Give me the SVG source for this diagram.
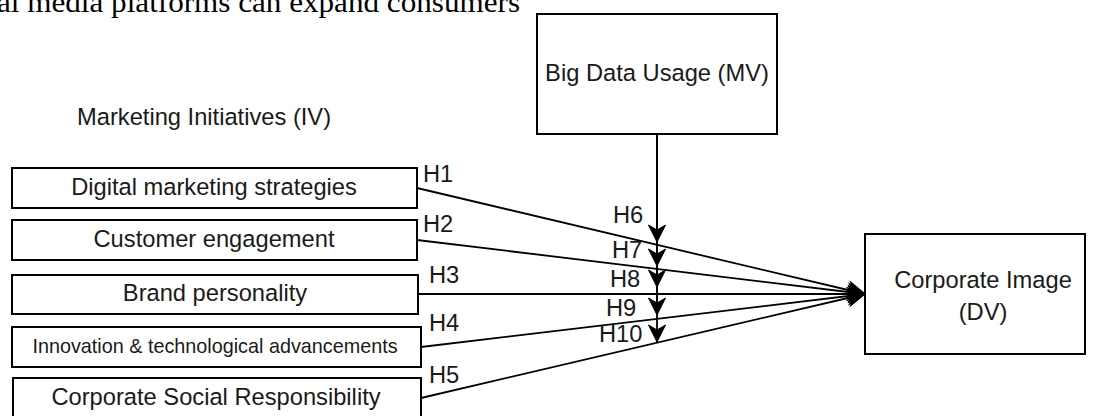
<svg xmlns="http://www.w3.org/2000/svg" width="1097" height="416" viewBox="0 0 1097 416">
  <style>
    .box { fill: #ffffff; stroke: #000000; stroke-width: 2; }
    .lbl { font-family: "Liberation Sans", Arial, sans-serif; font-size: 23.7px; fill: #1a1a1a; }
    .small { font-size: 19.8px; }
    .mid { text-anchor: middle; }
    .edge { fill: none; stroke: #000000; stroke-width: 1.8; }
    .serif { font-family: "Liberation Serif", "Times New Roman", serif; font-size: 30px; fill: #000000; }
  </style>
  <defs>
    <marker id="arr" markerUnits="userSpaceOnUse" markerWidth="22" markerHeight="22" viewBox="-19 -11 20 22" refX="0" refY="0" orient="auto">
      <path d="M0,0 L-17,-8.5 L-12,0 L-17,8.5 Z" fill="#000000" stroke="#000000" stroke-width="1"/>
    </marker>
  </defs>
  <rect width="1097" height="416" fill="#ffffff"/>

  <text class="serif" x="-3" y="12" textLength="523" lengthAdjust="spacingAndGlyphs">al media platforms can expand consumers</text>

  <text class="lbl" x="77" y="125">Marketing Initiatives (IV)</text>

  <g id="connectors">
    <line class="edge" x1="417" y1="188" x2="865" y2="294" marker-end="url(#arr)"/>
    <line class="edge" x1="417" y1="240" x2="865" y2="294" marker-end="url(#arr)"/>
    <line class="edge" x1="418" y1="294" x2="865" y2="294" marker-end="url(#arr)"/>
    <line class="edge" x1="421" y1="347" x2="865" y2="294" marker-end="url(#arr)"/>
    <line class="edge" x1="421" y1="398" x2="865" y2="294" marker-end="url(#arr)"/>
    <line class="edge" x1="657" y1="134" x2="657" y2="342" marker-end="url(#arr)"/>
    <line class="edge" x1="657" y1="134" x2="657" y2="315" marker-end="url(#arr)"/>
    <line class="edge" x1="657" y1="134" x2="657" y2="287" marker-end="url(#arr)"/>
    <line class="edge" x1="657" y1="134" x2="657" y2="266" marker-end="url(#arr)"/>
    <line class="edge" x1="657" y1="134" x2="657" y2="242" marker-end="url(#arr)"/>
    <text class="lbl" x="423" y="182">H1</text>
    <text class="lbl" x="423" y="232">H2</text>
    <text class="lbl" x="429" y="283">H3</text>
    <text class="lbl" x="429" y="331">H4</text>
    <text class="lbl" x="429" y="383">H5</text>
    <text class="lbl" x="613" y="223">H6</text>
    <text class="lbl" x="612" y="258">H7</text>
    <text class="lbl" x="610" y="287">H8</text>
    <text class="lbl" x="606" y="316">H9</text>
    <text class="lbl" x="599" y="342">H10</text>
  </g>

  <g id="bigdata">
    <rect class="box" x="537" y="14" width="240" height="120"/>
    <text class="lbl mid" x="657" y="81">Big Data Usage (MV)</text>
  </g>

  <g id="digital">
    <rect class="box" x="12" y="168" width="405" height="40"/>
    <text class="lbl mid" x="214" y="195">Digital marketing strategies</text>
  </g>
  <g id="engagement">
    <rect class="box" x="12" y="220" width="405" height="40"/>
    <text class="lbl mid" x="214" y="247">Customer engagement</text>
  </g>
  <g id="brand">
    <rect class="box" x="12" y="275" width="406" height="39"/>
    <text class="lbl mid" x="215" y="301">Brand personality</text>
  </g>
  <g id="innovation">
    <rect class="box" x="12" y="327" width="409" height="40"/>
    <text class="lbl small mid" x="215" y="353">Innovation &amp; technological advancements</text>
  </g>
  <g id="csr">
    <rect class="box" x="13" y="378" width="408" height="40"/>
    <text class="lbl mid" x="216" y="405">Corporate Social Responsibility</text>
  </g>

  <g id="corporate">
    <rect class="box" x="865" y="234" width="220" height="120"/>
    <text class="lbl mid" x="983" y="288">Corporate Image</text>
    <text class="lbl mid" x="983" y="320">(DV)</text>
  </g>
</svg>
